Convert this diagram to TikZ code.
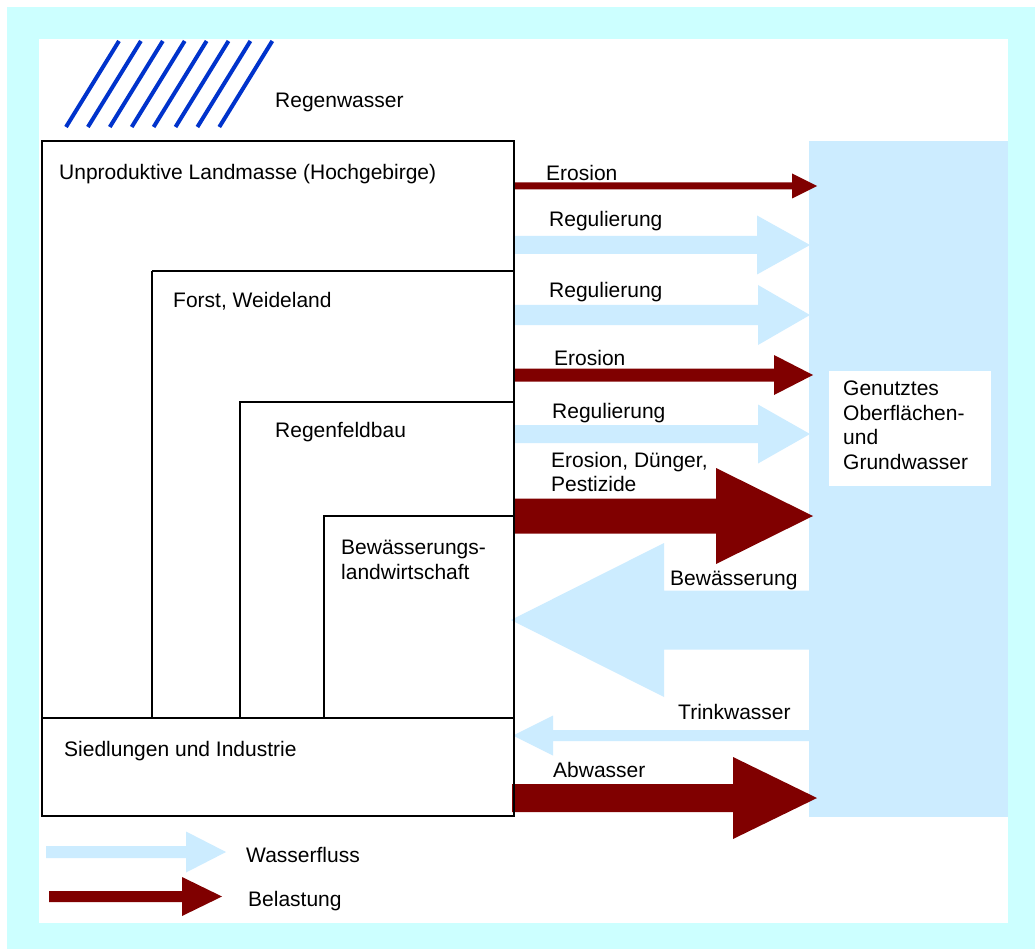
\documentclass[tikz,border=0pt]{standalone}
\usepackage{fontspec}
\setmainfont{Liberation Sans}
\definecolor{borderc}{HTML}{CCFFFF}
\definecolor{water}{HTML}{CCECFF}
\definecolor{load}{HTML}{800000}
\definecolor{rain}{HTML}{0033CC}
% fat arrow: colour, x start, x head base, x tip, y centre, shaft half, head half
\newcommand\fatarr[7]{%
  \fill[#1] (#2,#5-#6) -- (#3,#5-#6) -- (#3,#5-#7) -- (#4,#5) -- (#3,#5+#7) -- (#3,#5+#6) -- (#2,#5+#6) -- cycle;}
\begin{document}
\begin{tikzpicture}[x=1pt,y=-1pt,
  lbl/.style={anchor=base west,inner sep=0pt,font=\fontsize{21}{24.5}\selectfont},
  landbox/.style={draw=black,line width=1.3pt}]
\useasboundingbox (0,0) rectangle (1035,949);
% frame
\fill[borderc] (7,7) rectangle (1035,949);
\fill[white] (39,39) rectangle (1008,923);
% water column
\fill[water] (809,141) rectangle (1008,817);
\fill[white] (829,371) rectangle (991,486);
\node[lbl,align=left,anchor=north west] (gw) at (843,381) {Genutztes\\Oberflächen-\\und\\Grundwasser};
% rain
\foreach \i in {0,...,7}
  \draw[rain,line width=4pt] (66+21.9*\i,127) -- (119+21.9*\i,41);
\node[lbl] (regen) at (275,108) {Regenwasser};
% arrows
\fatarr{load}{514}{792}{817}{186}{3.5}{12.5}
\fatarr{water}{514}{757}{810}{245}{9}{29.5}
\fatarr{water}{514}{758}{810}{315}{10}{30}
\fatarr{load}{514}{774}{813}{375}{6.5}{20}
\fatarr{water}{514}{758}{810}{434}{9}{29.5}
\fatarr{load}{514}{716}{813}{516}{17.5}{48}
\fatarr{water}{809}{664}{511}{620}{29.5}{77}
\fatarr{water}{809}{553}{513}{735.5}{5.5}{20}
\fatarr{load}{512}{733}{817}{798}{14}{41}
% legend arrows
\fatarr{water}{46}{186}{226}{852}{6}{20.5}
\fatarr{load}{49}{182}{222}{896.5}{5.5}{19.5}
% land boxes
\draw[landbox] (42,141) rectangle (514,718);
\draw[landbox] (152,271) -- (514,271);
\draw[landbox] (152,718) -- (152,271);
\draw[landbox] (240,718) -- (240,402) -- (514,402);
\draw[landbox] (324,718) -- (324,516) -- (514,516);
\draw[landbox] (42,718) rectangle (514,816);
\draw[black,line width=2pt] (42,718) -- (514,718);
% labels
\node[lbl] (unprod) at (59,180) {Unproduktive Landmasse (Hochgebirge)};
\node[lbl] (forst) at (173,308) {Forst, Weideland};
\node[lbl] (rfb) at (275,437) {Regenfeldbau};
\node[lbl,align=left,anchor=north west] (bew) at (341,540) {Bewässerungs-\\landwirtschaft};
\node[lbl] (sied) at (64,756) {Siedlungen und Industrie};
\node[lbl] (e1) at (546,181) {Erosion};
\node[lbl] (r1) at (549,227) {Regulierung};
\node[lbl] (r2) at (549,298) {Regulierung};
\node[lbl] (e2) at (554,365) {Erosion};
\node[lbl] (r3) at (552,418) {Regulierung};
\node[lbl,align=left,anchor=north west] (edp) at (551,452) {Erosion, Dünger,\\Pestizide};
\node[lbl] (bwl) at (670,585) {Bewässerung};
\node[lbl] (tw) at (678,719) {Trinkwasser};
\node[lbl] (aw) at (553,777) {Abwasser};
\node[lbl] (wf) at (246,862) {Wasserfluss};
\node[lbl] (bl) at (248,906) {Belastung};
\end{tikzpicture}
\end{document}
